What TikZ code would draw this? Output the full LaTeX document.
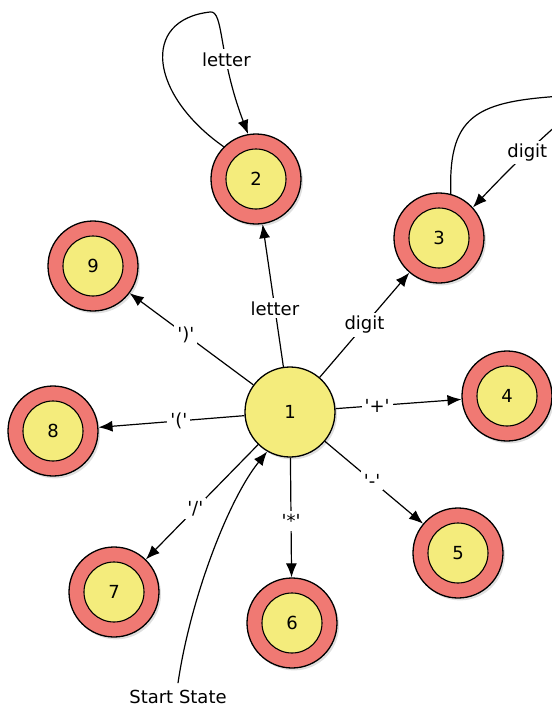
\documentclass[tikz,border=0pt]{standalone}
\usepackage{fontspec}
\setmainfont{DejaVu Sans}
\usetikzlibrary{positioning,shadows,arrows.meta}
\definecolor{ringred}{RGB}{240,121,115}
\definecolor{stateyellow}{RGB}{244,236,124}
\newcommand{\chr}[1]{\textquotesingle#1\textquotesingle}

\begin{document}
\begin{tikzpicture}[
  x=0.5pt, y=-0.5pt, font=\fontsize{9}{11}\selectfont,
  startnode/.style={circle, draw=black, line width=0.65pt, fill=stateyellow, minimum size=45pt,
    drop shadow={opacity=0.25, shadow xshift=1pt, shadow yshift=-1.2pt}},
  finalnode/.style={circle, draw=black, line width=0.65pt, fill=ringred, minimum size=45pt,
    drop shadow={opacity=0.25, shadow xshift=1pt, shadow yshift=-1.2pt},
    path picture={\draw[line width=0.55pt, fill=stateyellow] (path picture bounding box.center) circle (15pt);}},
  edge/.style={-{Latex[length=7pt,width=5.5pt]}, line width=0.6pt},
  lbl/.style={fill=white, inner sep=1.5pt}
]
\useasboundingbox (0,0) rectangle (552,709);
\clip (0,0) rectangle (552,709);

%Nodes
\node[startnode] (n1) at (290,412) {1};
\node[finalnode] (n2) at (256,179) {2};
\node[finalnode] (n3) at (439,238) {3};
\node[finalnode] (n4) at (507,396) {4};
\node[finalnode] (n5) at (458,553) {5};
\node[finalnode] (n6) at (292,623) {6};
\node[finalnode] (n7) at (114,592) {7};
\node[finalnode] (n8) at (53,431)  {8};
\node[finalnode] (n9) at (93,266)  {9};
\node (start) at (178,697) {Start State};

%Arrows
\draw[edge] (n1) -- node[lbl,pos=0.41]{letter} (n2);
\draw[edge] (n1) -- node[lbl,pos=0.5]{digit} (n3);
\draw[edge] (n1) -- node[lbl,pos=0.33]{\chr{+}} (n4);
\draw[edge] (n1) -- node[lbl,pos=0.48]{\chr{-}} (n5);
\draw[edge] (n1) -- node[lbl,pos=0.53]{\chr{*}} (n6);
\draw[edge] (n1) -- node[lbl,pos=0.56]{\chr{/}} (n7);
\draw[edge] (n1) -- node[lbl,pos=0.45]{\chr{(}} (n8);
\draw[edge] (n1) -- node[lbl,pos=0.545]{\chr{)}} (n9);

%Loops
\draw[edge] (n2.135) .. controls (150,95) and (140,20) .. (210,12)
  .. controls (224,10) and (218,55) .. node[lbl,pos=0.62]{letter} (n2.100);
\draw[edge] (n3.75) .. controls (448,110) and (480,100) .. (580,95)
  .. controls (600,95) and (560,115) .. node[lbl,pos=0.76]{digit} (n3.42);

%Start
\draw[edge] (start.north) .. controls (190,600) and (228,500) .. (n1.240);
\end{tikzpicture}
\end{document}
